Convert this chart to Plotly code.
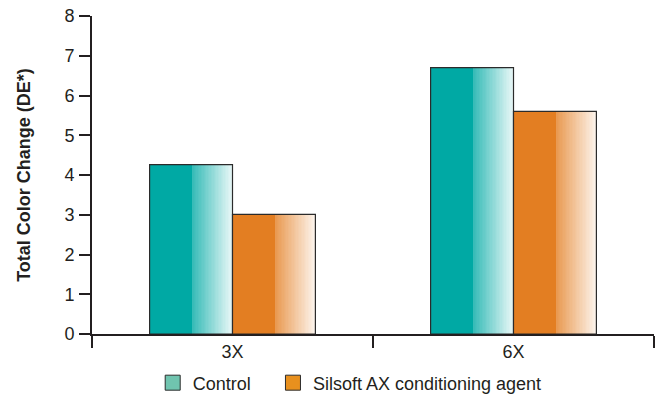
import plotly.graph_objects as go

categories = ["3X", "6X"]
control = [4.26, 6.70]
silsoft = [3.01, 5.60]
series_names = ["Control", "Silsoft AX conditioning agent"]
base_colors = [(0, 169, 164), (227, 126, 34)]
legend_colors = ["#70C4AF", "#E8901E"]

BW = 0.295          # width of one bar (category units)
SOLID = 0.52        # fraction of bar drawn in solid colour
N = 28              # gradient slices
F0, F1 = 0.22, 0.90 # white-mix fraction at gradient start / end


def mix(c, f):
    r, g, b = (round(v + (255 - v) * f) for v in c)
    return f"rgb({r},{g},{b})"


fig = go.Figure()
for k, (vals, col) in enumerate(zip([control, silsoft], base_colors)):
    start = -BW + k * BW
    fig.add_trace(go.Bar(x=categories, y=vals, width=[BW * SOLID + 0.003] * 2,
                         offset=[start] * 2, marker=dict(color=mix(col, 0), line_width=0),
                         showlegend=False, hoverinfo="skip"))
    gw = BW * (1 - SOLID) / N
    for i in range(N):
        f = F0 + (F1 - F0) * i / (N - 1)
        fig.add_trace(go.Bar(x=categories, y=vals, width=[gw + 0.002] * 2,
                             offset=[start + BW * SOLID + i * gw] * 2,
                             marker=dict(color=mix(col, f), line_width=0),
                             showlegend=False, hoverinfo="skip"))
    fig.add_trace(go.Bar(x=categories, y=vals, width=[BW] * 2, offset=[start] * 2,
                         marker=dict(color="rgba(0,0,0,0)", line=dict(color="#2b2b2b", width=1.2)),
                         showlegend=False, hoverinfo="skip"))

legend_ids = ["legend", "legend2"]
for name, lc, lg in zip(series_names, legend_colors, legend_ids):
    fig.add_trace(go.Scatter(x=[None], y=[None], name=name, mode="markers", legend=lg,
                             marker=dict(symbol="square", size=15, color=lc,
                                         line=dict(color="#2b2b2b", width=1))))

leg_common = dict(orientation="h", xanchor="left", y=-0.154, yanchor="middle",
                  font=dict(size=18), itemclick=False, bgcolor="rgba(0,0,0,0)")

fig.update_layout(
    width=657, height=394,
    margin=dict(l=92, r=3, t=16, b=60, autoexpand=False),
    barmode="overlay",
    plot_bgcolor="white", paper_bgcolor="white",
    font=dict(family="Liberation Sans, Arial, sans-serif", size=18, color="#231F20"),
    legend=dict(x=0.108, **leg_common),
    legend2=dict(x=0.322, **leg_common),
    xaxis=dict(range=[-0.5, 1.5], tickson="boundaries", ticks="outside", ticklen=12,
               tickwidth=2, tickcolor="#231F20", showline=True, linewidth=2,
               linecolor="#231F20", showgrid=False, zeroline=False,
               tickfont=dict(size=18)),
    yaxis=dict(range=[0, 8], dtick=1, ticks="outside", ticklen=11, tickwidth=2,
               tickcolor="#231F20", showline=True, linewidth=2, linecolor="#231F20",
               showgrid=False, zeroline=False, ticklabelstandoff=1,
               tickfont=dict(size=18),
               title=dict(text="<b>Total Color Change (DE*)</b>", font=dict(size=18), standoff=29)),
)

fig.write_html("out.html", config={"displayModeBar": False},
               post_script="document.body.style.margin='0px';document.body.style.overflow='hidden';")
